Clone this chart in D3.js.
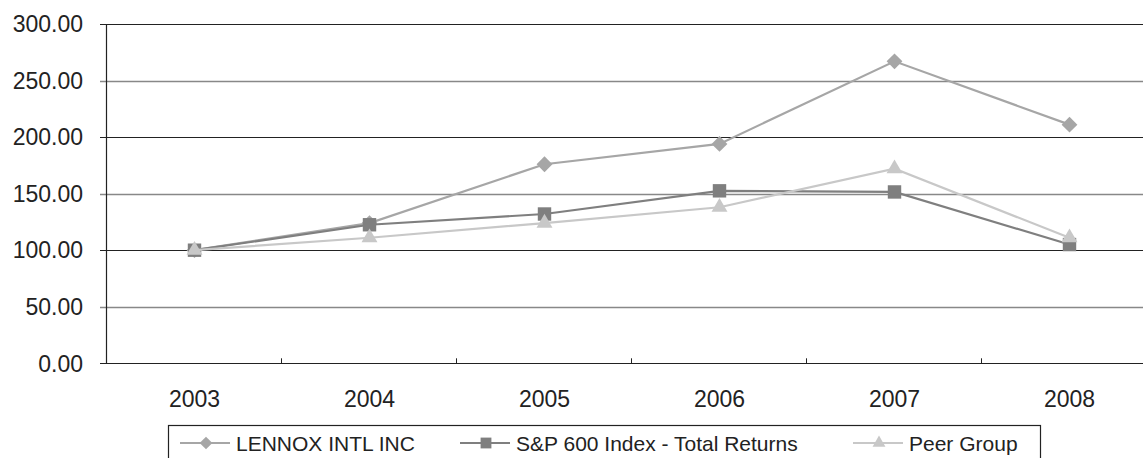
<!DOCTYPE html>
<html><head><meta charset="utf-8">
<script src="https://cdn.jsdelivr.net/npm/d3@7/dist/d3.min.js"></script>
<style>body{margin:0;background:#fff;}svg{display:block;font-family:"Liberation Sans",Arial,sans-serif;}</style>
</head><body>
<svg id="c" width="1143" height="458"></svg>
<script>
const years = ["2003","2004","2005","2006","2007","2008"];
const lennox = [100, 124, 176, 194, 267, 211];
const sp600 = [100, 122.5, 132, 152.5, 151.5, 105];
const peer = [100, 111, 124, 138, 172, 111];
const yTicks = [0, 50, 100, 150, 200, 250, 300];
const seriesNames = ["LENNOX INTL INC", "S&P 600 Index - Total Returns", "Peer Group"];

(function () {
const svg = d3.select("#c");
const pLeft = 107, pTop = 24, pBottom = 363.3, pRight = 1157;
const x = d3.scaleBand().domain(years).range([pLeft, pRight]);
const y = d3.scaleLinear().domain([0, 300]).range([pBottom, pTop]);

// gridlines
svg.append("g").selectAll("line").data(yTicks).join("line")
  .attr("x1", 100).attr("x2", 1143)
  .attr("y1", d => Math.round(y(d)) + 0.5).attr("y2", d => Math.round(y(d)) + 0.5)
  .attr("stroke", d => d % 100 === 0 ? "#222" : "#888").attr("stroke-width", d => d % 100 === 0 ? 1.2 : 1.6);

// y axis labels
svg.append("g").selectAll("text").data(yTicks).join("text")
  .attr("x", 83).attr("y", d => y(d)).attr("dy", "0.36em")
  .attr("text-anchor", "end").attr("font-size", 23).attr("fill", "#222")
  .text(d => d.toFixed(2));

// y axis line
svg.append("line").attr("x1", pLeft - 0.5).attr("x2", pLeft - 0.5).attr("y1", pTop).attr("y2", pBottom)
  .attr("stroke", "#222").attr("stroke-width", 1.2);

// x ticks (band boundaries), pointing up
const bounds = years.slice(1).map(d => x(d));
svg.append("g").selectAll("line").data(bounds).join("line")
  .attr("x1", d => Math.round(d) - 0.5).attr("x2", d => Math.round(d) - 0.5)
  .attr("y1", pBottom - 5).attr("y2", pBottom).attr("stroke", "#222").attr("stroke-width", 1);

// x labels
svg.append("g").selectAll("text").data(years).join("text")
  .attr("x", d => x(d) + x.bandwidth() / 2).attr("y", 406.5)
  .attr("text-anchor", "middle").attr("font-size", 23).attr("fill", "#222").text(d => d);

const cx = d => x(d) + x.bandwidth() / 2;
const series = [
  {name: seriesNames[0], vals: lennox, color: "#a6a6a6", sym: d3.symbolSquare, rot: 45, size: 125},
  {name: seriesNames[1], vals: sp600, color: "#7f7f7f", sym: d3.symbolSquare, rot: 0, size: 180},
  {name: seriesNames[2], vals: peer, color: "#c8c8c8", sym: d3.symbolTriangle, rot: 0, size: 110}
];
const line = d3.line().x((d, i) => cx(years[i])).y(d => y(d));
series.forEach(s => {
  const g = svg.append("g");
  g.append("path").attr("d", line(s.vals)).attr("fill", "none").attr("stroke", s.color).attr("stroke-width", 2.2);
  g.selectAll("path.m").data(s.vals).join("path").attr("class", "m")
    .attr("transform", (d, i) => `translate(${cx(years[i])},${y(d)}) rotate(${s.rot})`)
    .attr("d", d3.symbol().type(s.sym).size(s.size)).attr("fill", s.color);
});

// legend
const lg = svg.append("g");
lg.append("rect").attr("x", 168.5).attr("y", 425.5).attr("width", 872).attr("height", 60)
  .attr("fill", "#fff").attr("stroke", "#222").attr("stroke-width", 1.2);
const legX = [180, 460, 853];
series.forEach((s, i) => {
  const lx = legX[i], ly = 443;
  lg.append("line").attr("x1", lx).attr("x2", lx + 50).attr("y1", ly).attr("y2", ly)
    .attr("stroke", s.color).attr("stroke-width", 2);
  lg.append("path").attr("transform", `translate(${lx + 26},${ly}) rotate(${s.rot})`)
    .attr("d", d3.symbol().type(s.sym).size(s.size * 0.65)).attr("fill", s.color);
  lg.append("text").attr("x", lx + 56).attr("y", ly).attr("dy", "0.36em")
    .attr("font-size", 21).attr("fill", "#222").text(s.name);
});
})();
</script>
</body></html>
